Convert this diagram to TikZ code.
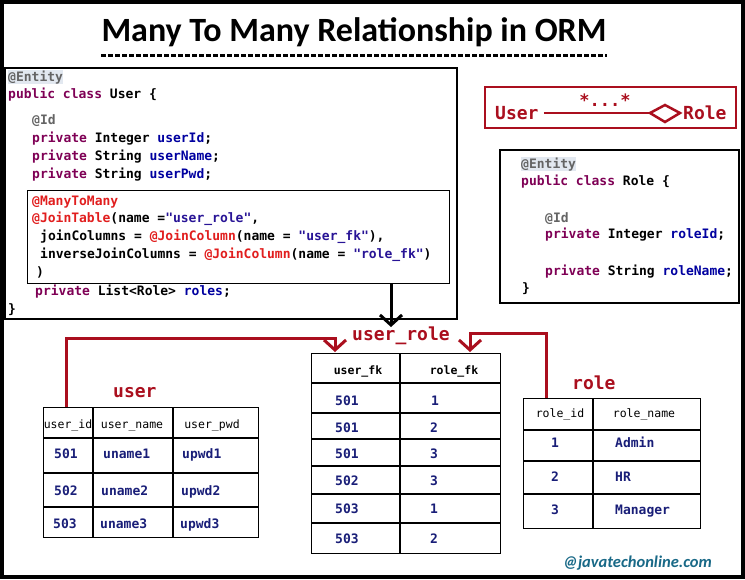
\documentclass[tikz,border=0pt]{standalone}
\usepackage{fontspec}
\setmainfont{Carlito}
\newfontfamily\codef{DejaVu Sans Mono}
\usetikzlibrary{arrows.meta,calc}
\definecolor{kw}{RGB}{127,0,85}
\definecolor{fld}{RGB}{0,0,160}
\definecolor{ann}{RGB}{100,100,100}
\definecolor{annr}{RGB}{225,30,30}
\definecolor{strc}{RGB}{40,20,150}
\definecolor{lred}{RGB}{170,15,30}
\definecolor{valc}{RGB}{25,30,120}
\definecolor{hil}{RGB}{226,232,240}
\definecolor{wm}{RGB}{25,105,135}
\begin{document}
\begin{tikzpicture}[x=1pt,y=-1pt,
 code/.style={anchor=base west, inner sep=0pt, font=\codef\bfseries\fontsize{13}{13}\selectfont},
 hdr/.style={anchor=base, inner sep=0pt, font=\codef\fontsize{11.5}{12}\selectfont},
 hdrb/.style={anchor=base, inner sep=0pt, font=\codef\bfseries\fontsize{11.5}{12}\selectfont},
 val/.style={anchor=base west, inner sep=0pt, text=valc, font=\codef\bfseries\fontsize{13}{13}\selectfont},
 lbl/.style={anchor=base west, inner sep=0pt, text=lred, font=\codef\bfseries\fontsize{18}{18}\selectfont},
 box/.style={draw=black, line width=1.5pt, anchor=north west, inner sep=0pt},
 grid/.style={line width=1.3pt},
 rconn/.style={draw=lred, line width=3pt, -{Straight Barb[length=10pt,width=22pt]}},
 bconn/.style={draw=black, line width=3pt, -{Straight Barb[length=10pt,width=22pt]}},
 ]
\useasboundingbox (0,0) rectangle (745,579);
\fill[white] (0,0) rectangle (745,579);
\draw[line width=4pt] (2,2) rectangle (743,577);

% title
\node[anchor=base, inner sep=0pt, font=\bfseries\fontsize{34}{34}\selectfont] (title) at (354,41) {Many To Many Relationship in ORM};
\draw[line width=3pt, dash pattern=on 5pt off 2pt] ($(title.base west)+(0,14)$) -- ($(title.base east)+(0,14)$);

% User class
\node[box, minimum width=452pt, minimum height=251pt] (ubox) at (4,67) {};
\node[code, text=ann, fill=hil] (c1) at (8,81) {@Entity};
\node[code] (c2) at (8,98) {\textcolor{kw}{public class} User \{};
\node[code, text=ann] (c3) at (32,124) {@Id};
\node[code] (c4) at (32,142) {\textcolor{kw}{private} Integer \textcolor{fld}{userId};};
\node[code] (c5) at (32,160) {\textcolor{kw}{private} String \textcolor{fld}{userName};};
\node[code] (c6) at (32,178) {\textcolor{kw}{private} String \textcolor{fld}{userPwd};};
\node[box, line width=1.3pt, minimum width=422pt, minimum height=93pt] (jt) at (27,190) {};
\node[code, text=annr] (c7) at (32,205) {@ManyToMany};
\node[code] (c8) at (32,222) {\textcolor{annr}{@JoinTable}(name =\textcolor{strc}{"user\_role"},};
\node[code] (c9) at (40,240) {joinColumns = \textcolor{annr}{@JoinColumn}(name = \textcolor{strc}{"user\_fk"}),};
\node[code] (c10) at (40,258) {inverseJoinColumns = \textcolor{annr}{@JoinColumn}(name = \textcolor{strc}{"role\_fk"})};
\node[code] (c11) at (36,276) {)};
\node[code] (c12) at (35,295) {\textcolor{kw}{private} List<Role> \textcolor{fld}{roles};};
\node[code] (c13) at (8,313) {\}};

% relationship box
\node[draw=lred, line width=1.5pt, anchor=north west, inner sep=0pt, minimum width=251pt, minimum height=41pt] (relbox) at (484,86) {};
\node[lbl] (ru) at (495,119) {User};
\node[lbl] (rr) at (683,119) {Role};
\node[anchor=base, inner sep=0pt, text=lred, font=\codef\bfseries\fontsize{17}{17}\selectfont] (mult) at (605,106) {*...*};
\coordinate (dl) at (650,113);
\draw[lred, line width=2.5pt] ($(ru.base east)+(5,-6)$) -- (dl);
\draw[lred, line width=2.5pt, line join=miter] (dl) -- ++(15,-8) -- ++(15,8) -- ++(-15,9) -- cycle;

% Role class
\node[box, minimum width=239pt, minimum height=153pt] (rbox) at (499,149) {};
\node[code, text=ann, fill=hil] (r1) at (521,168) {@Entity};
\node[code] (r2) at (521,185) {\textcolor{kw}{public class} Role \{};
\node[code, text=ann] (r3) at (545,222) {@Id};
\node[code] (r4) at (545,238) {\textcolor{kw}{private} Integer \textcolor{fld}{roleId};};
\node[code] (r5) at (545,275) {\textcolor{kw}{private} String \textcolor{fld}{roleName};};
\node[code] (r6) at (522,292) {\}};

% labels
\node[lbl] (lur) at (352,340) {user\_role};
\node[lbl] (lu) at (113,397) {user};
\node[lbl] (lr) at (572,389) {role};

% user table
\node[box, line width=1.3pt, minimum width=215pt, minimum height=130pt] (utab) at (43,407) {};
\draw[grid] (93,407) -- (93,537) (173,407) -- (173,537);
\draw[grid] (43,438) -- (258,438) (43,473) -- (258,473) (43,507) -- (258,507);
\node[hdr] (uh1) at (68,428) {user\_id};
\node[hdr] (uh2) at (132,428) {user\_name};
\node[hdr] (uh3) at (212,428) {user\_pwd};
\node[val] (u11) at (54,458) {501};
\node[val] (u12) at (103,458) {uname1};
\node[val] (u13) at (182,458) {upwd1};
\node[val] (u21) at (54,495) {502};
\node[val] (u22) at (101,495) {uname2};
\node[val] (u23) at (181,495) {upwd2};
\node[val] (u31) at (53,528) {503};
\node[val] (u32) at (100,528) {uname3};
\node[val] (u33) at (180,528) {upwd3};

% user_role table
\node[box, line width=1.3pt, minimum width=189pt, minimum height=200pt] (urtab) at (311,353) {};
\draw[grid] (400,353) -- (400,553);
\draw[grid] (311,383) -- (500,383) (311,413) -- (500,413) (311,439) -- (500,439)
  (311,466) -- (500,466) (311,494) -- (500,494) (311,523) -- (500,523);
\node[hdrb] (urh1) at (358,374) {user\_fk};
\node[hdrb] (urh2) at (454,374) {role\_fk};
\node[val] (ur11) at (335,405) {501};
\node[val] (ur12) at (431,405) {1};
\node[val] (ur21) at (335,432) {501};
\node[val] (ur22) at (430,432) {2};
\node[val] (ur31) at (335,458) {501};
\node[val] (ur32) at (430,458) {3};
\node[val] (ur41) at (335,485) {502};
\node[val] (ur42) at (430,485) {3};
\node[val] (ur51) at (335,513) {503};
\node[val] (ur52) at (430,513) {1};
\node[val] (ur61) at (335,543) {503};
\node[val] (ur62) at (430,543) {2};

% role table
\node[box, line width=1.3pt, minimum width=177pt, minimum height=130pt] (rtab) at (523,398) {};
\draw[grid] (593,398) -- (593,528);
\draw[grid] (523,430) -- (700,430) (523,461) -- (700,461) (523,494) -- (700,494);
\node[hdr] (rh1) at (560,417) {role\_id};
\node[hdr] (rh2) at (644,417) {role\_name};
\node[val] (rt11) at (551,447) {1};
\node[val] (rt12) at (615,447) {Admin};
\node[val] (rt21) at (551,481) {2};
\node[val] (rt22) at (615,481) {HR};
\node[val] (rt31) at (551,514) {3};
\node[val] (rt32) at (615,514) {Manager};

% connectors
\coordinate (bs) at ($(jt.south west)+(364,0)$);
\coordinate (be) at (391,327);
\draw[bconn] (bs) -- (be);
\coordinate (ua) at ($(utab.north west)+(23,0)$);
\coordinate (ub) at ($(urtab.north west)+(24,-1)$);
\draw[rconn] (ua) |- ($(ub)+(0,-14)$) -- (ub);
\coordinate (ra) at ($(rtab.north west)+(23,0)$);
\coordinate (rb) at ($(urtab.north west)+(159,-1)$);
\draw[rconn] (ra) |- ($(rb)+(0,-19)$) -- (rb);

% watermark
\node[anchor=base west, inner sep=0pt, text=wm, font=\bfseries\itshape\fontsize{16.5}{17}\selectfont] (wmk) at (563,567) {@javatechonline.com};
\end{tikzpicture}
\end{document}
